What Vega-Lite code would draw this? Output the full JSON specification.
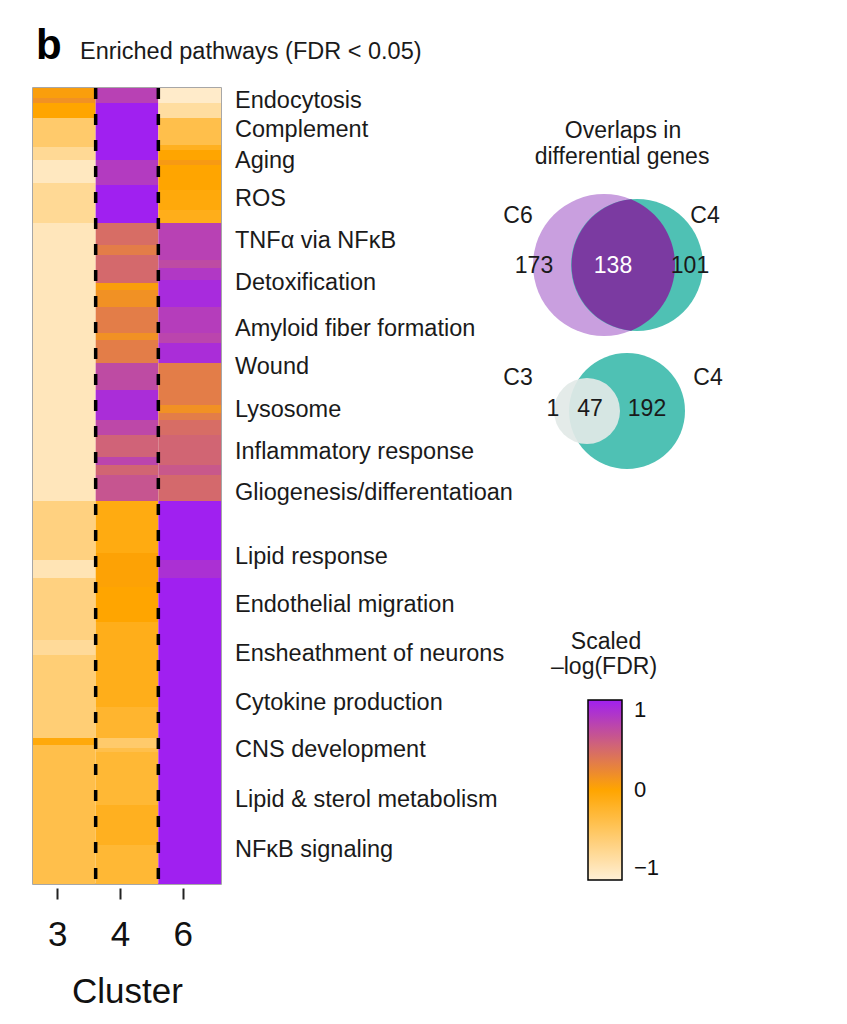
{
  "$schema": "https://vega.github.io/schema/vega-lite/v6.json",
  "width": 188,
  "height": 796,
  "autosize": {"type": "none"},
  "padding": {"left": 33, "top": 88, "right": 626, "bottom": 140},
  "background": "white",
  "config": {"font": "Liberation Sans", "view": {"stroke": "#8a8a8a", "strokeWidth": 1.5}},
  "datasets": {
    "cells": [
      {"cluster": "3", "start": 0, "end": 2.5, "z": 0.05},
      {"cluster": "3", "start": 2.5, "end": 3.75, "z": 0.15},
      {"cluster": "3", "start": 3.75, "end": 7.5, "z": 0},
      {"cluster": "3", "start": 7.5, "end": 14.75, "z": -0.5},
      {"cluster": "3", "start": 14.75, "end": 18, "z": -0.7},
      {"cluster": "3", "start": 18, "end": 23.75, "z": -0.9},
      {"cluster": "3", "start": 23.75, "end": 33.75, "z": -0.7},
      {"cluster": "3", "start": 33.75, "end": 103.25, "z": -0.88},
      {"cluster": "3", "start": 103.25, "end": 118, "z": -0.6},
      {"cluster": "3", "start": 118, "end": 122.5, "z": -0.85},
      {"cluster": "3", "start": 122.5, "end": 138, "z": -0.6},
      {"cluster": "3", "start": 138, "end": 141.75, "z": -0.72},
      {"cluster": "3", "start": 141.75, "end": 162.5, "z": -0.55},
      {"cluster": "3", "start": 162.5, "end": 164.25, "z": -0.05},
      {"cluster": "3", "start": 164.25, "end": 199, "z": -0.35},
      {"cluster": "4", "start": 0, "end": 3.75, "z": 0.75},
      {"cluster": "4", "start": 3.75, "end": 18, "z": 1},
      {"cluster": "4", "start": 18, "end": 24.25, "z": 0.8},
      {"cluster": "4", "start": 24.25, "end": 33.75, "z": 1},
      {"cluster": "4", "start": 33.75, "end": 39.25, "z": 0.42},
      {"cluster": "4", "start": 39.25, "end": 41.75, "z": 0.3},
      {"cluster": "4", "start": 41.75, "end": 48.75, "z": 0.45},
      {"cluster": "4", "start": 48.75, "end": 50.5, "z": 0.05},
      {"cluster": "4", "start": 50.5, "end": 54.75, "z": 0.15},
      {"cluster": "4", "start": 54.75, "end": 61.25, "z": 0.3},
      {"cluster": "4", "start": 61.25, "end": 63, "z": 0.15},
      {"cluster": "4", "start": 63, "end": 68.75, "z": 0.3},
      {"cluster": "4", "start": 68.75, "end": 75.5, "z": 0.68},
      {"cluster": "4", "start": 75.5, "end": 83, "z": 0.9},
      {"cluster": "4", "start": 83, "end": 86.75, "z": 0.7},
      {"cluster": "4", "start": 86.75, "end": 92.25, "z": 0.5},
      {"cluster": "4", "start": 92.25, "end": 94.25, "z": 0.72},
      {"cluster": "4", "start": 94.25, "end": 96.75, "z": 0.48},
      {"cluster": "4", "start": 96.75, "end": 103.25, "z": 0.6},
      {"cluster": "4", "start": 103.25, "end": 116.25, "z": -0.08},
      {"cluster": "4", "start": 116.25, "end": 124.75, "z": 0.02},
      {"cluster": "4", "start": 124.75, "end": 133.5, "z": 0},
      {"cluster": "4", "start": 133.5, "end": 154.75, "z": -0.12},
      {"cluster": "4", "start": 154.75, "end": 162.5, "z": -0.22},
      {"cluster": "4", "start": 162.5, "end": 165, "z": -0.5},
      {"cluster": "4", "start": 165, "end": 166, "z": -0.35},
      {"cluster": "4", "start": 166, "end": 179.25, "z": -0.25},
      {"cluster": "4", "start": 179.25, "end": 189.25, "z": -0.15},
      {"cluster": "4", "start": 189.25, "end": 199, "z": -0.25},
      {"cluster": "6", "start": 0, "end": 3.75, "z": -0.95},
      {"cluster": "6", "start": 3.75, "end": 7.5, "z": -0.75},
      {"cluster": "6", "start": 7.5, "end": 14.25, "z": -0.35},
      {"cluster": "6", "start": 14.25, "end": 15.5, "z": -0.15},
      {"cluster": "6", "start": 15.5, "end": 18, "z": 0},
      {"cluster": "6", "start": 18, "end": 19.25, "z": 0.08},
      {"cluster": "6", "start": 19.25, "end": 25.5, "z": 0},
      {"cluster": "6", "start": 25.5, "end": 30.5, "z": -0.05},
      {"cluster": "6", "start": 30.5, "end": 33.75, "z": -0.12},
      {"cluster": "6", "start": 33.75, "end": 43, "z": 0.75},
      {"cluster": "6", "start": 43, "end": 45, "z": 0.68},
      {"cluster": "6", "start": 45, "end": 48, "z": 0.82},
      {"cluster": "6", "start": 48, "end": 54.75, "z": 0.92},
      {"cluster": "6", "start": 54.75, "end": 61.25, "z": 0.78},
      {"cluster": "6", "start": 61.25, "end": 63.75, "z": 0.72},
      {"cluster": "6", "start": 63.75, "end": 68.75, "z": 0.9},
      {"cluster": "6", "start": 68.75, "end": 79.25, "z": 0.3},
      {"cluster": "6", "start": 79.25, "end": 81.25, "z": 0.15},
      {"cluster": "6", "start": 81.25, "end": 83, "z": 0.3},
      {"cluster": "6", "start": 83, "end": 86.75, "z": 0.42},
      {"cluster": "6", "start": 86.75, "end": 94.25, "z": 0.48},
      {"cluster": "6", "start": 94.25, "end": 96.75, "z": 0.58},
      {"cluster": "6", "start": 96.75, "end": 103.25, "z": 0.45},
      {"cluster": "6", "start": 103.25, "end": 118, "z": 1},
      {"cluster": "6", "start": 118, "end": 122.5, "z": 0.88},
      {"cluster": "6", "start": 122.5, "end": 199, "z": 1}
    ],
    "boundaries": [{"cluster": "4"}, {"cluster": "6"}],
    "pathways": [
      {"name": "Endocytosis", "pos": 3.25},
      {"name": "Complement", "pos": 10.5},
      {"name": "Aging", "pos": 18.25},
      {"name": "ROS", "pos": 27.75},
      {"name": "TNFα via NFκB", "pos": 38.25},
      {"name": "Detoxification", "pos": 48.75},
      {"name": "Amyloid fiber formation", "pos": 60.25},
      {"name": "Wound", "pos": 69.75},
      {"name": "Lysosome", "pos": 80.5},
      {"name": "Inflammatory response", "pos": 91},
      {"name": "Gliogenesis/differentatioan", "pos": 101.25},
      {"name": "Lipid response", "pos": 117.25},
      {"name": "Endothelial migration", "pos": 129.25},
      {"name": "Ensheathment of neurons", "pos": 141.5},
      {"name": "Cytokine production", "pos": 153.75},
      {"name": "CNS development", "pos": 165.5},
      {"name": "Lipid & sterol metabolism", "pos": 178},
      {"name": "NFκB signaling", "pos": 190.5}
    ],
    "venn1": [{"set": "C6", "genes": 311, "cx": 60.4, "cy": 26.5}, {"set": "C4", "genes": 239, "cx": 63.7, "cy": 26.5}],
    "lens1": [{"set": "C6 ∩ C4", "genes": 138, "cx": 63.1, "cy": 26.5}],
    "venn2big": [{"set": "C4", "genes": 239, "cx": 62.7, "cy": 41.1}],
    "venn2small": [{"set": "C3", "genes": 48, "cx": 58.7, "cy": 41.1}],
    "tag": [{"t": "b", "cx": 3.6, "cy": 5.9}],
    "heading": [{"t": "Enriched pathways (FDR < 0.05)", "cx": 8.0, "cy": 5.85}],
    "vennText": [
      {"t": "Overlaps in", "cx": 62.3, "cy": 13.1},
      {"t": "differential genes", "cx": 62.2, "cy": 15.7},
      {"t": "C6", "cx": 51.8, "cy": 21.6},
      {"t": "C4", "cx": 70.5, "cy": 21.6},
      {"t": "173", "cx": 53.4, "cy": 26.6},
      {"t": "101", "cx": 69.0, "cy": 26.6},
      {"t": "C3", "cx": 51.8, "cy": 37.8},
      {"t": "C4", "cx": 70.8, "cy": 37.8},
      {"t": "1", "cx": 55.3, "cy": 40.9},
      {"t": "47", "cx": 59.0, "cy": 40.9},
      {"t": "192", "cx": 64.7, "cy": 40.9},
      {"t": "Scaled", "cx": 60.6, "cy": 64.2},
      {"t": "–log(FDR)", "cx": 60.4, "cy": 66.7}
    ],
    "vennWhite": [{"t": "138", "cx": 61.3, "cy": 26.6}]
  },
  "layer": [
    {
      "layer": [
        {
          "data": {"name": "cells"},
          "mark": {"type": "rect"},
          "encoding": {
            "x": {
              "field": "cluster", "type": "ordinal",
              "scale": {"domain": ["3", "4", "6"], "paddingInner": 0, "paddingOuter": 0},
              "axis": {
                "title": "Cluster", "titleFontSize": 35, "titleFontWeight": "normal", "titleColor": "#111",
                "labelFontSize": 35, "labelColor": "#111", "labelAngle": 0,
                "domain": false, "ticks": true, "tickSize": 11, "tickWidth": 2, "tickColor": "#222",
                "offset": 4, "labelPadding": 18, "titlePadding": 22, "tickOffset": -7
              }
            },
            "y": {"field": "start", "type": "quantitative", "scale": {"domain": [0, 199], "reverse": true, "nice": false, "zero": false}, "axis": null},
            "y2": {"field": "end"},
            "color": {
              "field": "z", "type": "quantitative",
              "scale": {"domain": [-1, 0, 1], "range": ["#FFEFD5", "#FFA500", "#A020F0"], "interpolate": "rgb"},
              "legend": {
                "orient": "none", "legendX": 555, "legendY": 612, "title": null, "direction": "vertical",
                "gradientLength": 180, "gradientThickness": 34, "values": [-1, 0, 1],
                "labelFontSize": 22, "labelColor": "#111", "labelOffset": 12,
                "gradientStrokeColor": "black", "gradientStrokeWidth": 1.5, "padding": 0
              }
            }
          }
        },
        {
          "data": {"name": "boundaries"},
          "mark": {"type": "rule", "color": "black", "strokeWidth": 3.5, "strokeDash": [11, 15]},
          "encoding": {"x": {"field": "cluster", "type": "ordinal", "bandPosition": 0}}
        },
        {
          "data": {"name": "pathways"},
          "mark": {"type": "text", "align": "left", "baseline": "middle", "dx": 14, "fontSize": 23.5, "color": "#1a1a1a"},
          "encoding": {
            "x": {"value": "width"},
            "y": {"field": "pos", "type": "quantitative"},
            "text": {"field": "name"}
          }
        }
      ]
    },
    {
      "encoding": {
        "x": {"field": "cx", "type": "quantitative", "scale": {"domain": [3.3, 22.1], "nice": false, "zero": false}, "axis": null},
        "y": {"field": "cy", "type": "quantitative", "scale": {"domain": [8.8, 88.4], "reverse": true, "nice": false, "zero": false}, "axis": null}
      },
      "layer": [
        {
          "data": {"name": "venn1"},
          "transform": [{"filter": "datum.set == 'C6'"}],
          "mark": {"type": "point", "shape": "circle", "filled": true, "size": 20164, "color": "#C99FDF", "opacity": 1}
        },
        {
          "data": {"name": "venn1"},
          "transform": [{"filter": "datum.set == 'C4'"}],
          "mark": {"type": "point", "shape": "circle", "filled": true, "size": 17424, "color": "#4FC1B4", "opacity": 1}
        },
        {
          "data": {"name": "lens1"},
          "mark": {"type": "point", "filled": true, "size": 17266, "color": "#7B3AA1", "opacity": 1,
            "shape": "M0,-1C0.405,-0.834,0.67,-0.438,0.67,0C0.67,0.438,0.405,0.834,0,1C-0.514,0.949,-0.905,0.517,-0.905,0C-0.905,-0.517,-0.514,-0.949,0,-1Z"}
        },
        {
          "data": {"name": "venn2big"},
          "mark": {"type": "point", "shape": "circle", "filled": true, "size": 13456, "color": "#4FC1B4", "opacity": 1}
        },
        {
          "data": {"name": "venn2small"},
          "mark": {"type": "point", "shape": "circle", "filled": true, "size": 4356, "color": "#E2E9E7", "opacity": 0.92}
        },
        {
          "data": {"name": "tag"},
          "mark": {"type": "text", "align": "left", "baseline": "alphabetic", "fontSize": 42, "fontWeight": "bold", "color": "black"},
          "encoding": {"text": {"field": "t"}}
        },
        {
          "data": {"name": "heading"},
          "mark": {"type": "text", "align": "left", "baseline": "alphabetic", "fontSize": 23.5, "color": "#1a1a1a"},
          "encoding": {"text": {"field": "t"}}
        },
        {
          "data": {"name": "vennText"},
          "mark": {"type": "text", "align": "center", "baseline": "middle", "fontSize": 23, "color": "#1a1a1a"},
          "encoding": {"text": {"field": "t"}}
        },
        {
          "data": {"name": "vennWhite"},
          "mark": {"type": "text", "align": "center", "baseline": "middle", "fontSize": 23, "color": "white"},
          "encoding": {"text": {"field": "t"}}
        }
      ]
    }
  ],
  "resolve": {"scale": {"x": "independent", "y": "independent"}, "axis": {"x": "independent", "y": "independent"}}
}
